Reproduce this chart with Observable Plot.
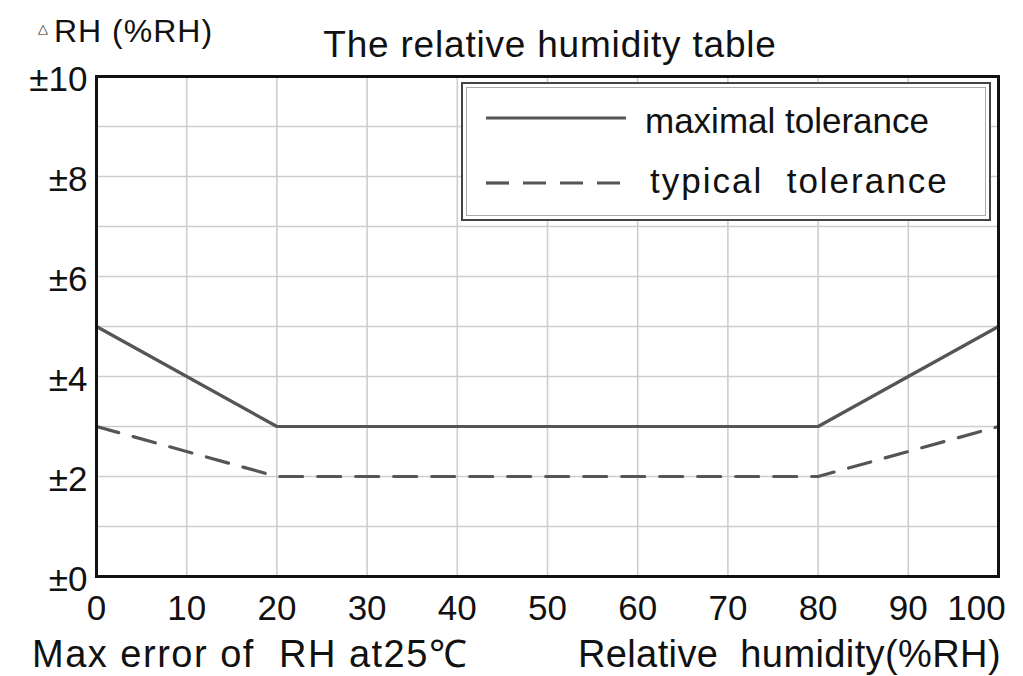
<!DOCTYPE html>
<html>
<head>
<meta charset="utf-8">
<script src="https://cdn.jsdelivr.net/npm/d3@7"></script>
<script src="https://cdn.jsdelivr.net/npm/@observablehq/plot@0.6"></script>
<style>
  html, body { margin: 0; padding: 0; background: #fff; }
  #wrap { position: relative; width: 1023px; height: 676px; overflow: hidden; font-family: "Liberation Sans", Arial, sans-serif; color: #111; }
  #wrap > .lbl { position: absolute; white-space: pre; line-height: 1; }
  #title { left: 0; width: 1100px; text-align: center; top: 26px; font-size: 37px; letter-spacing: 0.8px; }
  #ylab { left: 38px; top: 15px; font-size: 32px; letter-spacing: 1px; }
  #ylab .tri { font-size: 13px; vertical-align: 9px; margin-right: 5px; }
  #xlabL { left: 32px; top: 635px; font-size: 38px; letter-spacing: 1.5px; }
  #xlabR { right: 22px; top: 635px; font-size: 38px; letter-spacing: 0.4px; }
  #legend { position: absolute; left: 461px; top: 82px; width: 526px; height: 135px; border: 2px solid #444; box-shadow: inset 0 0 0 3px #fff, inset 0 0 0 4px #aaa; background: #fff; }
  #legend svg { position: absolute; left: 0; top: 0; }
  #legend .item { position: absolute; white-space: pre; font-size: 35px; line-height: 1; }
</style>
</head>
<body>
<div id="wrap"></div>
<script>
// ---- data ----
const humidity = [0, 20, 80, 100];
const maximalTolerance = [5, 3, 3, 5];
const typicalTolerance = [3, 2, 2, 3];
const xTicks = [0, 10, 20, 30, 40, 50, 60, 70, 80, 90, 100];
const yTicks = [0, 2, 4, 6, 8, 10];
const yGrid = [1, 2, 3, 4, 5, 6, 7, 8, 9];
const seriesNames = ["maximal tolerance", "typical  tolerance"];
const titleText = "The relative humidity table";
const yLabelText = "RH (%RH)";
const xLabelLeft = "Max error of  RH at25\u2103";
const xLabelRight = "Relative  humidity(%RH)";

const maxData = humidity.map((x, i) => ({x, y: maximalTolerance[i]}));
const typData = humidity.map((x, i) => ({x, y: typicalTolerance[i]}));

const tickFont = "'Liberation Sans', Arial, sans-serif";
const lastTick = xTicks[xTicks.length - 1];

const chart = Plot.plot({
  width: 1023,
  height: 676,
  marginLeft: 96,
  marginRight: 25,
  marginTop: 76,
  marginBottom: 100,
  style: {fontFamily: tickFont, color: "#111", background: "transparent", overflow: "visible"},
  x: {domain: [0, 100]},
  y: {domain: [0, 10]},
  marks: [
    Plot.gridX(xTicks, {stroke: "#cdcdcd", strokeOpacity: 1, strokeWidth: 1.6}),
    Plot.gridY(yGrid, {stroke: "#cdcdcd", strokeOpacity: 1, strokeWidth: 1.6}),
    Plot.line(maxData, {x: "x", y: "y", stroke: "#555", strokeWidth: 3.2}),
    Plot.line(typData, {x: "x", y: "y", stroke: "#555", strokeWidth: 3.2, strokeDasharray: "23,15"}),
    Plot.frame({stroke: "#111", strokeWidth: 3}),
    Plot.axisX(xTicks.filter(d => d !== lastTick), {tickSize: 0, tickPadding: 19, fontSize: 35, fill: "#111", label: null}),
    Plot.axisX([lastTick], {tickSize: 0, tickPadding: 19, fontSize: 35, fill: "#111", dx: -22, label: null}),
    Plot.axisY(yTicks, {tickSize: 0, tickPadding: 9, fontSize: 35, fill: "#111", dy: 3, tickFormat: d => "\u00b1" + d, label: null})
  ]
});

const wrap = document.getElementById("wrap");
wrap.appendChild(chart);
chart.style.position = "absolute";
chart.style.left = "0";
chart.style.top = "0";

function addLabel(id, text, html) {
  const d = document.createElement("div");
  d.className = "lbl";
  d.id = id;
  if (html) d.innerHTML = html; else d.textContent = text;
  wrap.appendChild(d);
  return d;
}
addLabel("title", titleText);
addLabel("ylab", null, '<span class="tri">\u25b3</span>' + yLabelText);
addLabel("xlabL", xLabelLeft);
addLabel("xlabR", xLabelRight);

// legend
const legend = document.createElement("div");
legend.id = "legend";
const ns = "http://www.w3.org/2000/svg";
const lsvg = document.createElementNS(ns, "svg");
lsvg.setAttribute("width", 526);
lsvg.setAttribute("height", 135);
const legendRows = [
  {lineY: 34, baseY: 49, x1: 23, x2: 163, textX: 182, dash: null, ls: 0},
  {lineY: 99, baseY: 109, x1: 23, x2: 166, textX: 187, dash: "23,14", ls: 2}
];
seriesNames.forEach((name, i) => {
  const r = legendRows[i];
  const ln = document.createElementNS(ns, "line");
  ln.setAttribute("x1", r.x1); ln.setAttribute("x2", r.x2);
  ln.setAttribute("y1", r.lineY); ln.setAttribute("y2", r.lineY);
  ln.setAttribute("stroke", "#555"); ln.setAttribute("stroke-width", 3.2);
  if (r.dash) ln.setAttribute("stroke-dasharray", r.dash);
  lsvg.appendChild(ln);
  const t = document.createElement("div");
  t.className = "item";
  t.textContent = name;
  t.style.left = r.textX + "px";
  t.style.top = (r.baseY - 29.6) + "px";
  t.style.letterSpacing = r.ls + "px";
  legend.appendChild(t);
});
legend.appendChild(lsvg);
wrap.appendChild(legend);
</script>
</body>
</html>
